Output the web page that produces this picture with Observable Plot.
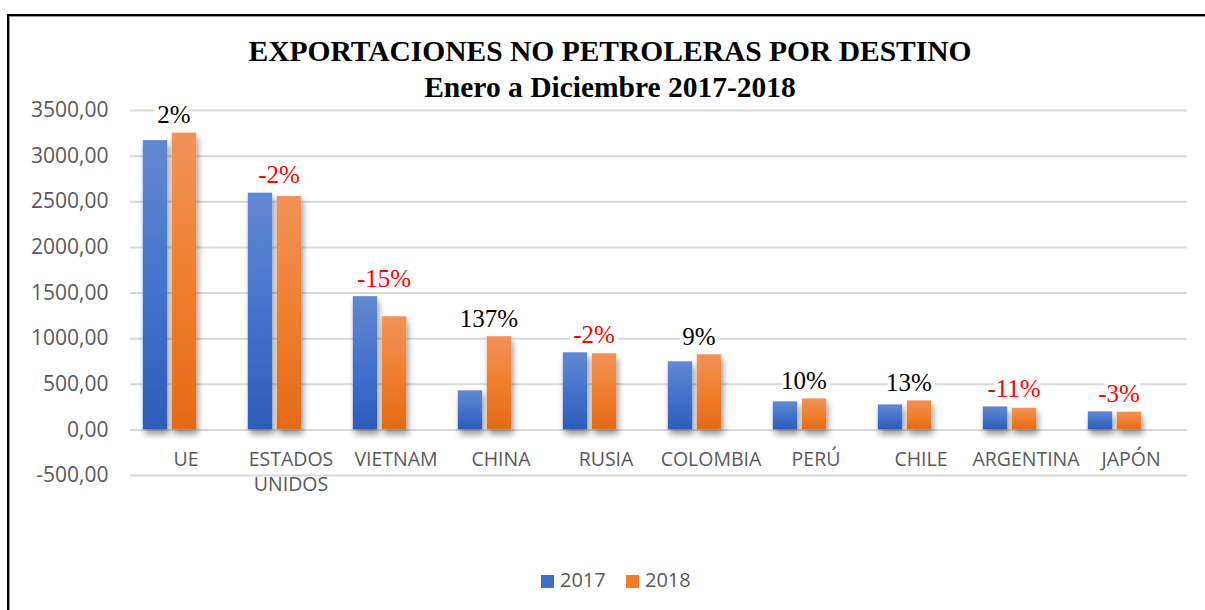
<!DOCTYPE html>
<html>
<head>
<meta charset="utf-8">
<script src="https://cdn.jsdelivr.net/npm/d3@7"></script>
<script src="https://cdn.jsdelivr.net/npm/@observablehq/plot@0.6"></script>
<style>
  html, body { margin: 0; padding: 0; background: #fff; }
  #wrap { position: relative; width: 1205px; height: 610px; overflow: hidden; background: #fff; }
  #frame { position: absolute; left: 7px; top: 14px; width: 1210px; height: 610px; border-left: 2px solid #000; border-top: 2px solid #000; box-shadow: inset 1px 1px 0 #999; }
  .title { position: absolute; left: 0; width: 1220px; text-align: center; font-family: "Liberation Serif", "Times New Roman", serif; font-weight: bold; font-size: 29.5px; color: #000; line-height: 1; }
  #chart { position: absolute; left: 0; top: 0; }
  .leg { position: absolute; top: 567px; font-family: "Open Sans", sans-serif; font-size: 20px; color: #595959; line-height: 26px; }
  .sw { display: inline-block; width: 13px; height: 13px; margin-right: 6px; vertical-align: -1px; }
</style>
</head>
<body>
<div id="wrap">
  <div id="frame"></div>
  <div class="title" style="top:37px">EXPORTACIONES NO PETROLERAS POR DESTINO</div>
  <div class="title" style="top:73px">Enero a Diciembre 2017-2018</div>
  <div id="chart"></div>
  <div class="leg" style="left:541px"><span class="sw" style="background:#3f6cc6"></span>2017</div>
  <div class="leg" style="left:626px"><span class="sw" style="background:#ee7d2f"></span>2018</div>
</div>
<script>
const categories = ["UE", "ESTADOS UNIDOS", "VIETNAM", "CHINA", "RUSIA", "COLOMBIA", "PERÚ", "CHILE", "ARGENTINA", "JAPÓN"];
const tickLabels = ["UE", "ESTADOS\nUNIDOS", "VIETNAM", "CHINA", "RUSIA", "COLOMBIA", "PERÚ", "CHILE", "ARGENTINA", "JAPÓN"];
const values2017 = [3170, 2594, 1460, 428, 845, 746, 307, 274, 252, 198];
const values2018 = [3252, 2557, 1240, 1021, 834, 823, 340, 318, 236, 194];
const pctChange = [2, -2, -15, 137, -2, 9, 10, 13, -11, -3];
const yTicks = [-500, 0, 500, 1000, 1500, 2000, 2500, 3000, 3500];

const rows = categories.map((c, i) => ({
  cat: c, tick: tickLabels[i], v17: values2017[i], v18: values2018[i], pct: pctChange[i],
  top: Math.max(values2017[i], values2018[i])
}));

const fmt = d3.formatLocale({decimal: ",", thousands: ".", grouping: [3], currency: ["", ""], minus: "-"}).format(".2f");

const W = 1205, H = 520;
const bandInset = (105.6 - 25) / 2;

const plot = Plot.plot({
  width: W,
  height: H,
  marginTop: 110,
  marginBottom: 45,
  marginLeft: 130,
  marginRight: 18,
  style: {background: "transparent", fontFamily: "'Open Sans', sans-serif"},
  x: {domain: categories, range: [113.5, 1169.5], padding: 0, axis: null},
  y: {domain: [-500, 3500], axis: null},
  marks: [
    Plot.ruleY(yTicks, {stroke: "#d9d9d9", strokeWidth: 2}),
    Plot.axisY(yTicks, {tickSize: 0, tickPadding: 22, tickFormat: fmt, fontSize: 21, fill: "#595959", anchor: "left"}),
    Plot.barY(rows, {x: "cat", y: "v17", fill: "url(#g2017)", insetLeft: bandInset, insetRight: bandInset, dx: -14.5}),
    Plot.barY(rows, {x: "cat", y: "v18", fill: "url(#g2018)", insetLeft: bandInset, insetRight: bandInset, dx: 14.5}),
    Plot.text(rows, {x: "cat", y: () => 0, text: "tick", dx: 16, dy: 18, lineAnchor: "top", lineHeight: 1.3, fontSize: 19.5, fill: "#595959"}),
    Plot.text(rows, {x: "cat", y: "top", text: d => d.pct + "%", dx: 4, dy: -18, lineAnchor: "middle",
      fontFamily: "'Liberation Serif', 'Times New Roman', serif", fontSize: 25,
      fill: d => d.pct < 0 ? "#ff0000" : "#000000", stroke: "white", strokeWidth: 8, paintOrder: "stroke"})
  ]
});

const svg = d3.select(plot);
const defs = svg.insert("defs", ":first-child");
const g1 = defs.append("linearGradient").attr("id", "g2017").attr("x1", 0).attr("y1", 0).attr("x2", 0).attr("y2", 1);
g1.append("stop").attr("offset", "0%").attr("stop-color", "#6388d2");
g1.append("stop").attr("offset", "50%").attr("stop-color", "#4473cc");
g1.append("stop").attr("offset", "100%").attr("stop-color", "#2d5cba");
const g2 = defs.append("linearGradient").attr("id", "g2018").attr("x1", 0).attr("y1", 0).attr("x2", 0).attr("y2", 1);
g2.append("stop").attr("offset", "0%").attr("stop-color", "#f19259");
g2.append("stop").attr("offset", "50%").attr("stop-color", "#f07f2e");
g2.append("stop").attr("offset", "100%").attr("stop-color", "#e46a17");
const f = defs.append("filter").attr("id", "shadow").attr("x", "-30%").attr("y", "-10%").attr("width", "160%").attr("height", "130%");
f.append("feDropShadow").attr("dx", 2).attr("dy", 5).attr("stdDeviation", 3).attr("flood-color", "#000").attr("flood-opacity", 0.4);
svg.selectAll("g[aria-label='bar']").attr("filter", "url(#shadow)");

document.getElementById("chart").appendChild(plot);
</script>
</body>
</html>
